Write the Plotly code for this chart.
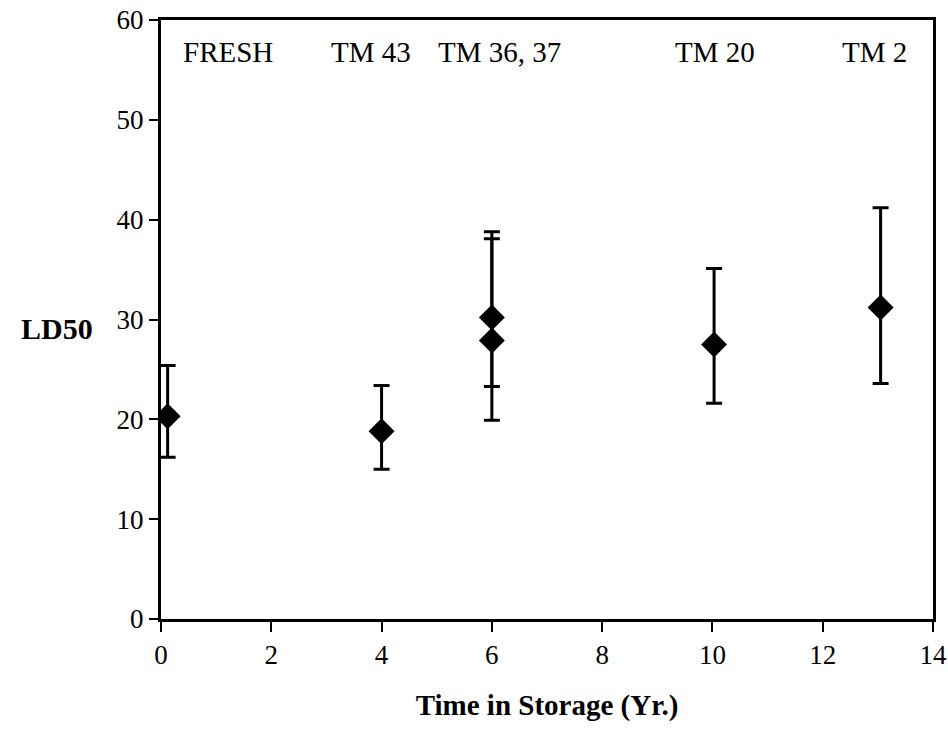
import plotly.graph_objects as go

# storage time (yr) and LD50 values
years = [0.12, 4.0, 6.0, 6.0, 10.03, 13.05]
ld50 = [20.3, 18.8, 30.2, 27.9, 27.5, 31.2]
err_hi = [25.4, 23.4, 38.8, 38.1, 35.1, 41.2]
err_lo = [16.2, 15.0, 23.3, 19.9, 21.6, 23.6]

lot_names = ["FRESH", "TM 43", "TM 36, 37", "TM 20", "TM 2"]
lot_x = [1.22, 3.81, 6.13, 10.05, 12.93]
lot_y = 56.8

serif = "Liberation Serif, Times New Roman, serif"

fig = go.Figure()
fig.add_trace(go.Scatter(
    x=years,
    y=ld50,
    mode="markers",
    marker=dict(symbol="diamond", size=20, color="black"),
    error_y=dict(
        type="data",
        symmetric=False,
        array=[h - v for h, v in zip(err_hi, ld50)],
        arrayminus=[v - l for l, v in zip(err_lo, ld50)],
        color="black",
        thickness=3,
        width=8,
    ),
    showlegend=False,
))

for name, xv in zip(lot_names, lot_x):
    fig.add_annotation(x=xv, y=lot_y, text=name, showarrow=False,
                       font=dict(family=serif, size=29, color="black"))

fig.add_annotation(x=-0.135, y=0.485, xref="paper", yref="paper", text="<b>LD50</b>",
                   showarrow=False, xanchor="center",
                   font=dict(family=serif, size=30, color="black"))

fig.update_layout(
    width=948,
    height=731,
    margin=dict(l=161, r=15, t=20, b=112),
    paper_bgcolor="white",
    plot_bgcolor="white",
    font=dict(family=serif, size=26, color="black"),
)
fig.update_xaxes(
    range=[0, 14], dtick=2, showgrid=False, zeroline=False, automargin=False,
    showline=True, linecolor="black", linewidth=3, mirror=True,
    ticks="outside", ticklen=10, tickwidth=2, tickcolor="black",
    tickfont=dict(family=serif, size=27), ticklabeloverflow="allow",
    title=dict(text="<b>Time in Storage (Yr.)</b>", standoff=26,
               font=dict(family=serif, size=29)),
)
fig.update_yaxes(
    range=[0, 60], dtick=10, showgrid=False, zeroline=False, automargin=False,
    showline=True, linecolor="black", linewidth=3, mirror=True,
    ticks="outside", ticklen=9, tickwidth=2, tickcolor="black",
    tickfont=dict(family=serif, size=27), ticklabeloverflow="allow",
)

# drop the default 8px body margin so the figure fills the window
fig.write_html("out.html", config={"displayModeBar": False},
               post_script="document.body.style.margin='0px';")
